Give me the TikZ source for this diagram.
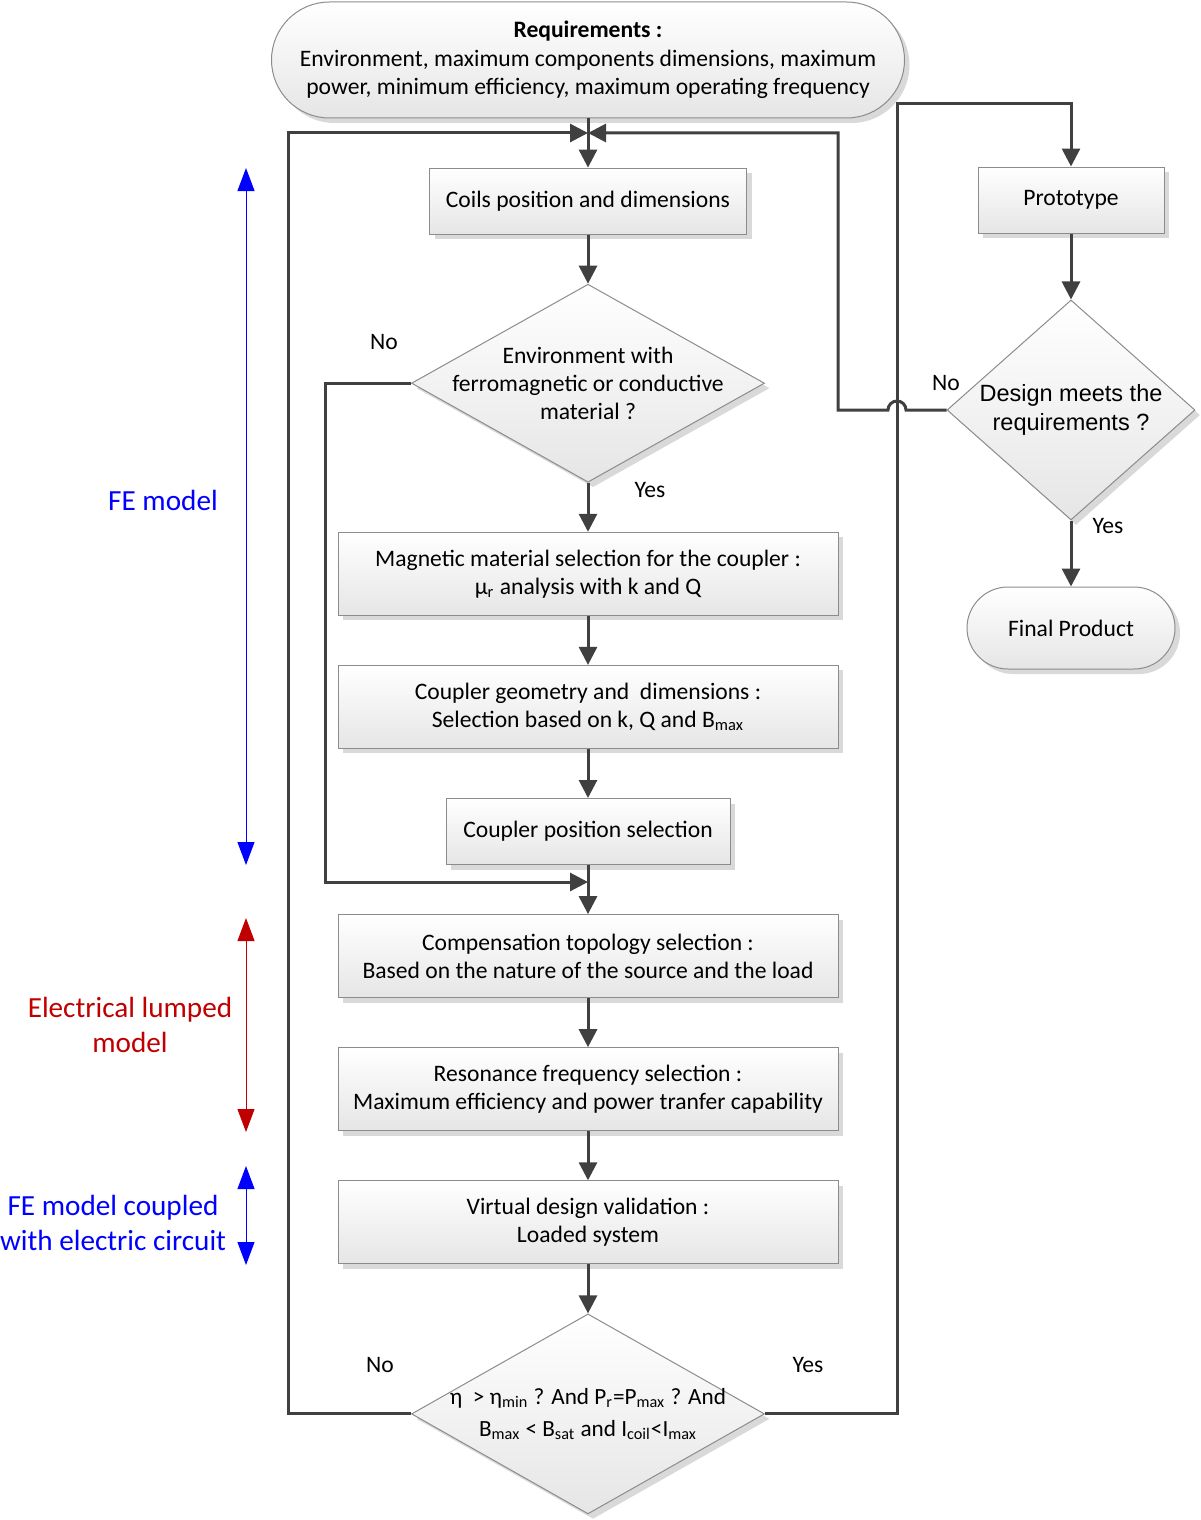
\documentclass[tikz,border=0pt]{standalone}
\usepackage{fontspec}
\setmainfont{Carlito}
\newfontfamily\arialfont{Liberation Sans}
\usetikzlibrary{arrows.meta,positioning,shapes.geometric,shadows}
\definecolor{edge}{HTML}{404040}
\definecolor{rim}{HTML}{8C8C8C}
\definecolor{feblue}{HTML}{0000FF}
\definecolor{elred}{HTML}{C00000}

\begin{document}
\begin{tikzpicture}[x=0.5pt,y=-0.5pt,node distance=24.55pt,font=\fontsize{11.8}{14}\selectfont,
box/.style={draw=rim,line width=0.5pt,top color=white,bottom color=black!10,drop shadow={shadow xshift=2.5pt,shadow yshift=-2.5pt,fill=black!25,opacity=0.6},minimum width=250pt,minimum height=41.5pt,align=center,inner sep=2pt},
dec/.style={box,diamond,inner sep=0pt,minimum width=176.5pt,minimum height=99pt},
txt/.style={align=center},
arr/.style={-{Triangle[length=9pt,width=9pt]},line width=1.5pt,draw=edge},
span/.style={{Triangle[length=11.5pt,width=8.5pt]}-{Triangle[length=11.5pt,width=8.5pt]},line width=0.5pt},
side/.style={align=center,font=\fontsize{14.6}{17.5}\selectfont}]
\useasboundingbox (0,0) rectangle (1200,1520);
\node[box,rounded corners=29pt,minimum width=316.5pt,minimum height=58pt,font=\fontsize{11.8}{14.25}\selectfont] (req) at (588,60) {\textbf{Requirements :}\\Environment, maximum components dimensions, maximum\\power, minimum efficiency, maximum operating frequency};
\node[box,minimum width=158.5pt,minimum height=33pt,below=of req] (coils) {Coils position and dimensions};
\node[dec,below=of coils] (env) {};
\node[txt] at (env) {Environment with\\ferromagnetic or conductive\\material ?};
\node[box,below=of env] (mat) {Magnetic material selection for the coupler :\\μ\textsubscript{r} analysis with k and Q};
\node[box,below=of mat] (geo) {Coupler geometry and\ \ dimensions :\\Selection based on k, Q and B\textsubscript{max}};
\node[box,minimum width=142pt,minimum height=33pt,below=of geo] (pos) {Coupler position selection};
\node[box,below=of pos] (comp) {Compensation topology selection :\\Based on the nature of the source and the load};
\node[box,below=of comp] (res) {Resonance frequency selection :\\Maximum efficiency and power tranfer capability};
\node[box,below=of res] (virt) {Virtual design validation :\\Loaded system};
\node[dec,minimum height=100pt,below=of virt] (chk) {};
\node[txt,font=\fontsize{11.6}{16}\selectfont] at (chk) {η\ \ > η\textsubscript{min} ? And P\textsubscript{r}=P\textsubscript{max} ? And\\B\textsubscript{max} < B\textsubscript{sat} and I\textsubscript{coil}<I\textsubscript{max}};
\node[box,minimum width=93pt,minimum height=33pt] (proto) at (1071,200) {Prototype};
\node[dec,minimum width=124pt,minimum height=110pt,below=33pt of proto] (meet) {};
\node[txt,font=\arialfont\fontsize{11.75}{14.5}\selectfont] at (meet) {Design meets the\\requirements ?};
\node[box,rounded corners=20.5pt,minimum width=104pt,minimum height=41pt,below=33pt of meet] (prod) {Final Product};
\node at (384,342) {No};
\node at (650,490) {Yes};
\node at (946,383) {No};
\node at (1108,526) {Yes};
\node at (380,1365) {No};
\node at (808,1365) {Yes};
\coordinate (merge) at (588,133);
\coordinate (join) at (588,882);
\coordinate (lft) at (288,0);
\coordinate (inn) at (325,0);
\coordinate (back) at (838,0);
\coordinate (fwd) at (897,104);
\draw[arr] (req) -- (coils);
\draw[arr] (coils) -- (env);
\draw[arr] (env) -- (mat);
\draw[arr] (mat) -- (geo);
\draw[arr] (geo) -- (pos);
\draw[arr] (pos) -- (comp);
\draw[arr] (comp) -- (res);
\draw[arr] (res) -- (virt);
\draw[arr] (virt) -- (chk);
\draw[arr] (env.west) -- (env.west -| inn) |- (join);
\draw[arr] (chk.west) -- (chk.west -| lft) |- (merge);
\draw[arr] (chk.east) -- (chk.east -| fwd) -- (fwd) -| (proto);
\draw[arr] (proto) -- (meet);
\draw[arr] (meet) -- (prod);
\draw[arr] (meet.west) -- ([xshift=4.5pt]fwd |- meet.west) arc[start angle=0,end angle=180,radius=4.5pt] -- (back |- meet.west) |- (merge);
\coordinate (fetop) at (246,168);
\coordinate (febot) at (246,865);
\coordinate (eltop) at (246,918);
\coordinate (elbot) at (246,1132);
\coordinate (cptop) at (246,1166);
\coordinate (cpbot) at (246,1265);
\draw[span,feblue] (fetop) -- (febot);
\draw[span,elred] (eltop) -- (elbot);
\draw[span,feblue] (cptop) -- (cpbot);
\node[side,text=feblue] at (163,500) {FE model};
\node[side,text=elred] at (130,1025) {Electrical lumped\\model};
\node[side,text=feblue] at (113,1223) {FE model coupled\\with electric circuit};
\end{tikzpicture}
\end{document}
